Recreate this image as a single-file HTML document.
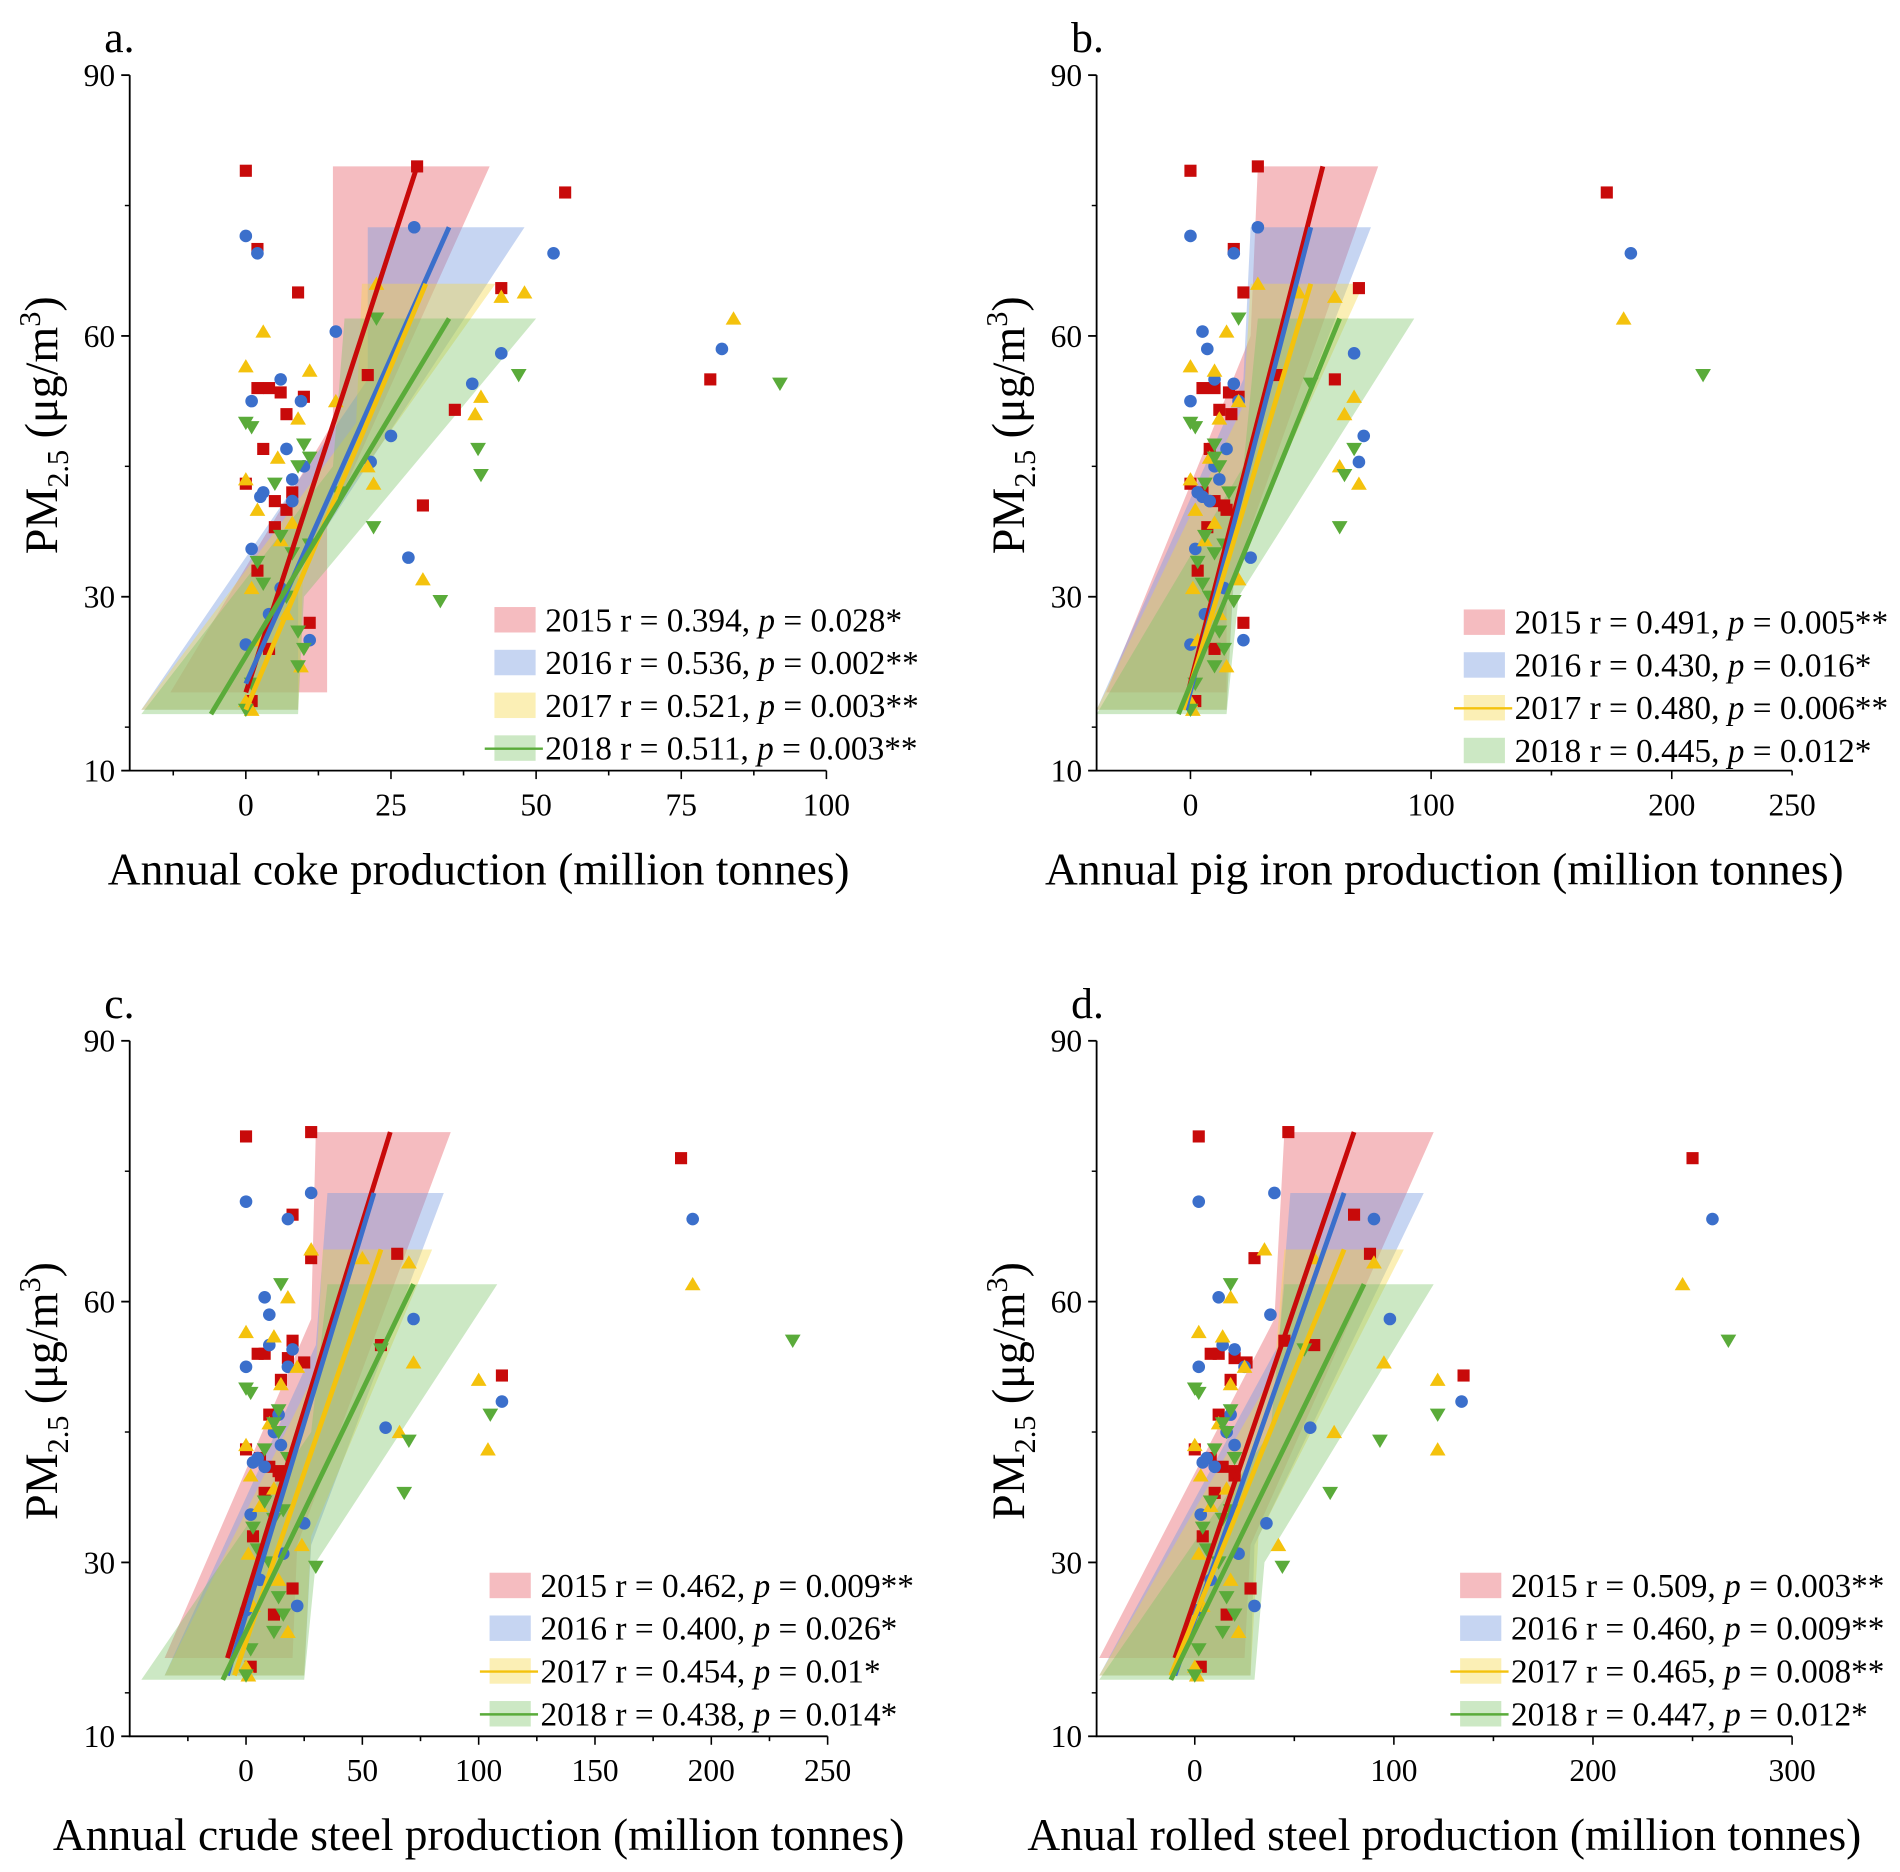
<!DOCTYPE html>
<html><head><meta charset="utf-8"><style>
html,body{margin:0;padding:0;background:#fff;}
svg{display:block;font-family:"Liberation Serif",serif;}
</style></head><body>
<svg id="fig" width="1900" height="1872" viewBox="0 0 1568 1545" xmlns="http://www.w3.org/2000/svg"></svg>
<script>
// PM2.5 values per year (shared by all panels)
const y2015 = [79,79.5,76.5,70,65,65.5,55,54,54,53.5,53,51.5,51,47,43,42,41,40,38,33,27,24,18,55.5,40.5];
const y2016 = [72.5,71.5,69.5,69.5,60.5,58.5,58,54.5,52.5,52.5,48.5,47,45.5,45,43.5,42,41.5,41,35.5,34.5,31,28,25,24.5,55];
const y2017 = [66,65,64.5,62,60.5,56.5,56,53,52.5,51,50.5,46,45,43.5,43,40,38.5,36.5,32,31,28,25,22,18,17];
const y2018 = [62,55.5,54.5,50,49.5,47,46,44,45,43,42,38,36,35,34,31.5,30,29.5,26,24,22,20,17,47.5,37];
// production x values per panel / year
const xA2015 = [0,29.5,55,2,9,44,80,2,4,6,10,36,7,3,0,8,5,7,5,2,11,4,1,21,30.5];
const xA2016 = [29,0,2,53,15.5,82,44,39,1,9.5,25,7,21.5,10,8,3,2.5,8,1,28,6,4,11,0,6];
const xA2017 = [22.5,48,44,84,3,0,11,40.5,15.5,39.5,9,5.5,21,0,22,2,8,6,30.5,1,7,2,9.5,0,1];
const xA2018 = [22.5,47,92,0,1,40,11,40.5,9,5,16,22,11,8,2,3,7,33.5,9,10,9,1,0,10,6];
const xB2015 = [0,28,173,18,22,70,60,5,10,16,20,12,17,8,0,5,10,15,7,3,22,10,2,36,14];
const xB2016 = [28,0,18,183,5,7,68,18,0,20,72,15,70,10,12,3,5,8,2,25,14,6,22,0,10];
const xB2017 = [28,45,60,180,15,0,10,68,20,64,12,8,62,0,70,2,10,6,20,1,12,3,15,0,1];
const xB2018 = [20,213,50,0,2,68,10,64,12,6,16,62,14,10,3,5,8,18,12,14,10,2,0,10,6];
const xC2015 = [0,28,187,20,28,65,58,5,8,18,25,110,15,10,0,6,10,15,8,3,20,12,2,20,14];
const xC2016 = [28,0,18,192,8,10,72,20,0,18,110,14,60,12,15,5,3,8,2,25,16,6,22,0,10];
const xC2017 = [28,50,70,192,18,0,12,72,22,100,15,10,66,0,104,2,12,6,24,1,14,3,18,0,1];
const xC2018 = [15,235,58,0,2,105,12,70,14,8,18,68,16,12,3,5,10,30,14,16,12,2,0,14,8];
const xD2015 = [2,47,250,80,30,88,60,8,12,20,26,135,18,12,0,8,14,20,10,4,28,16,3,45,20];
const xD2016 = [40,2,90,260,12,38,98,20,2,25,134,18,58,16,20,6,4,10,3,36,22,8,30,1,14];
const xD2017 = [35,60,90,245,18,2,14,95,25,122,18,12,70,0,122,3,16,8,42,2,18,4,22,0,1];
const xD2018 = [18,268,55,0,2,122,14,93,16,10,20,68,18,14,4,6,12,44,16,20,14,2,0,18,8];
// fitted lines [x0,y0,x1,y1] in data units
const fitA = [[0,19,29.5,79.5],[0,20,35,72.5],[0,17,31,66],[-6,16.5,35,62]];
const fitB = [[-1,19,55,79.5],[-2,17,50,72.5],[-3,17,50,66],[-5,16.5,62,62]];
const fitC = [[-8,19,62,79.5],[-8,17,55,72.5],[-5,17,58,66],[-10,16.5,72,62]];
const fitD = [[-10,19,80,79.5],[-10,17,75,72.5],[-12,17,75,66],[-12,16.5,85,62]];
// confidence bands (data units)
const bandA = [[[-13,19],[14,19],[14,38],[42,79.5],[15,79.5],[15,50]],[[-18,17],[9,17],[9,33],[48,72.5],[21,72.5],[21,55]],[[-18,17],[9,17],[10,35],[43,66],[20,66],[19,50]],[[-18,16.5],[9,16.5],[10,30],[50,62],[17,62],[15,45]]];
const bandB = [[[-35,19],[15,19],[15,30],[78,79.5],[28,79.5],[25,60]],[[-39,17],[15,17],[18,32],[75,72.5],[25,72.5],[22,55]],[[-39,17],[15,17],[18,33],[72,66],[25,66],[22,52]],[[-39,16.5],[15,16.5],[20,30],[93,62],[28,62],[22,45]]];
const bandC = [[[-35,19],[20,19],[22,32],[88,79.5],[30,79.5],[28,58]],[[-35,17],[25,17],[28,32],[85,72.5],[35,72.5],[30,55]],[[-35,17],[25,17],[28,33],[80,66],[33,66],[30,52]],[[-45,16.5],[25,16.5],[30,30],[108,62],[35,62],[28,45]]];
const bandD = [[[-48,19],[25,19],[28,32],[120,79.5],[45,79.5],[40,58]],[[-48,17],[28,17],[30,32],[115,72.5],[48,72.5],[42,55]],[[-48,17],[28,17],[32,33],[105,66],[45,66],[40,52]],[[-48,16.5],[30,16.5],[35,30],[120,62],[45,62],[38,45]]];
const legA = ["2015 r = 0.394, |p| = 0.028*","2016 r = 0.536, |p| = 0.002**","2017 r = 0.521, |p| = 0.003**","2018 r = 0.511, |p| = 0.003**"];
const legB = ["2015 r = 0.491, |p| = 0.005**","2016 r = 0.430, |p| = 0.016*","2017 r = 0.480, |p| = 0.006**","2018 r = 0.445, |p| = 0.012*"];
const legC = ["2015 r = 0.462, |p| = 0.009**","2016 r = 0.400, |p| = 0.026*","2017 r = 0.454, |p| = 0.01*","2018 r = 0.438, |p| = 0.014*"];
const legD = ["2015 r = 0.509, |p| = 0.003**","2016 r = 0.460, |p| = 0.009**","2017 r = 0.465, |p| = 0.008**","2018 r = 0.447, |p| = 0.012*"];
const ticksA = [0,25,50,75,100], ticksB=[0,100,200,250], ticksC=[0,50,100,150,200,250], ticksD=[0,100,200,300];
const yTicks = [10,30,60,90];

const NS="http://www.w3.org/2000/svg";
const svg=document.getElementById('fig');
function mk(tag,attrs,parent){const e=document.createElementNS(NS,tag);for(const k in attrs)e.setAttribute(k,attrs[k]);(parent||svg).appendChild(e);return e;}
const years=['2015','2016','2017','2018'];
const lineCol=['#c80a0a','#3b6fcb','#f4c20d','#5aab3a'];
const bandCol=['rgba(232,96,104,0.42)','rgba(120,155,225,0.42)','rgba(246,214,70,0.4)','rgba(120,195,100,0.38)'];
const ys=[y2015,y2016,y2017,y2018];

const panels=[
 {id:'a',L:107,R:682,xmin:-20,xmax:100,T:62,B:636,xs:[xA2015,xA2016,xA2017,xA2018],fit:fitA,band:bandA,leg:legA,ticks:ticksA,lx:408,ly:512,title:'Annual coke production (million tonnes)',lineRows:[3]},
 {id:'b',L:905,R:1479,xmin:-39,xmax:250,T:62,B:636,xs:[xB2015,xB2016,xB2017,xB2018],fit:fitB,band:bandB,leg:legB,ticks:ticksB,lx:1208,ly:514,title:'Annual pig iron production (million tonnes)',lineRows:[2]},
 {id:'c',L:107,R:683,xmin:-50,xmax:250,T:859,B:1433,xs:[xC2015,xC2016,xC2017,xC2018],fit:fitC,band:bandC,leg:legC,ticks:ticksC,lx:404,ly:1309,title:'Annual crude steel production (million tonnes)',lineRows:[2,3]},
 {id:'d',L:905,R:1479,xmin:-49.3,xmax:300,T:859,B:1433,xs:[xD2015,xD2016,xD2017,xD2018],fit:fitD,band:bandD,leg:legD,ticks:ticksD,lx:1205,ly:1309,title:'Anual rolled steel production (million tonnes)',lineRows:[2,3]}
];

panels.forEach(p=>{
 const g=mk('g',{});
 
 
 const X=v=>p.L+(v-p.xmin)/(p.xmax-p.xmin)*(p.R-p.L);
 const Y=v=>p.B-(v-10)/80*(p.B-p.T);
 p.band.forEach((poly,i)=>{
  const e=mk('polygon',{points:poly.map(q=>X(q[0])+','+Y(q[1])).join(' '),fill:bandCol[i]},g);
  
  
 });
 ys.forEach((yy,i)=>{
  const xs=p.xs[i];
  yy.forEach((v,j)=>{
   const cx=X(xs[j]), cy=Y(v); let e;
   if(i===0) e=mk('rect',{x:cx-5,y:cy-5,width:10,height:10,fill:lineCol[0]},g);
   else if(i===1) e=mk('circle',{cx:cx,cy:cy,r:5.2,fill:lineCol[1]},g);
   else if(i===2) e=mk('polygon',{points:`${cx},${cy-6} ${cx-6.5},${cy+5} ${cx+6.5},${cy+5}`,fill:lineCol[2]},g);
   else e=mk('polygon',{points:`${cx},${cy+6} ${cx-6.5},${cy-5} ${cx+6.5},${cy-5}`,fill:lineCol[3]},g);
   
   
  });
 });
 p.fit.forEach((f,i)=>{
  const e=mk('line',{x1:X(f[0]),y1:Y(f[1]),x2:X(f[2]),y2:Y(f[3]),stroke:lineCol[i],'stroke-width':4},g);
  
  
 });
 const ax=mk('path',{d:`M${p.L},${p.T}V${p.B}H${p.R}`,stroke:'#000','stroke-width':1.5,fill:'none'},g);
 
 
 yTicks.forEach(t=>{
  mk('line',{x1:p.L-7,x2:p.L,y1:Y(t),y2:Y(t),stroke:'#000','stroke-width':1.5},g);
  const e=mk('text',{x:p.L-12,y:Y(t)+9,'text-anchor':'end','font-size':26},g);
  e.textContent=t;
  
  
 });
 [15,45,75].forEach(t=>mk('line',{x1:p.L-4,x2:p.L,y1:Y(t),y2:Y(t),stroke:'#000','stroke-width':1.2},g));
 const step=p.ticks[1]-p.ticks[0];
 for(let v=-step/2; v<=p.xmax+0.01; v+=step/2){
  if(v<p.xmin) continue;
  const maj=Math.abs(v/step-Math.round(v/step))<1e-6;
  mk('line',{x1:X(v),x2:X(v),y1:p.B,y2:p.B+(maj?7:4),stroke:'#000','stroke-width':1.3},g);
 }
 p.ticks.forEach(t=>{
  const e=mk('text',{x:X(t),y:p.B+37,'text-anchor':'middle','font-size':26},g);
  e.textContent=t;
  
  
 });
 const xt=mk('text',{x:(p.id==='a'||p.id==='c')?395:1192,y:p.B+94,'text-anchor':'middle','font-size':37.5},g);
 xt.textContent=p.title;
 
 
 const yt=mk('text',{transform:`translate(${p.L-60},${(p.T+p.B)/2+2}) rotate(-90)`,'text-anchor':'middle','font-size':38},g);
 yt.innerHTML='PM<tspan font-size="25" dy="9">2.5</tspan><tspan dy="-9"> (μg/m</tspan><tspan font-size="25" dy="-14">3</tspan><tspan dy="14">)</tspan>';
 
 
 const lt=mk('text',{x:p.L-21,y:p.T-19,'font-size':36},g);
 lt.textContent=p.id+'.';
 
 
 p.leg.forEach((s,i)=>{
  const y0=p.ly+i*35.3;
  const lg=mk('g',{},g);
  
  
  mk('rect',{x:p.lx,y:y0-11,width:34,height:21,fill:bandCol[i]},lg);
  if(p.lineRows.includes(i)) mk('line',{x1:p.lx-8,x2:p.lx+40,y1:y0,y2:y0,stroke:lineCol[i],'stroke-width':2},lg);
  const parts=s.split('|');
  const t=mk('text',{x:p.lx+42,y:y0+9,'font-size':27.5},lg);
  t.innerHTML=parts[0]+'<tspan font-style="italic">'+parts[1]+'</tspan>'+parts[2];
 });
});
</script>
</body></html>
